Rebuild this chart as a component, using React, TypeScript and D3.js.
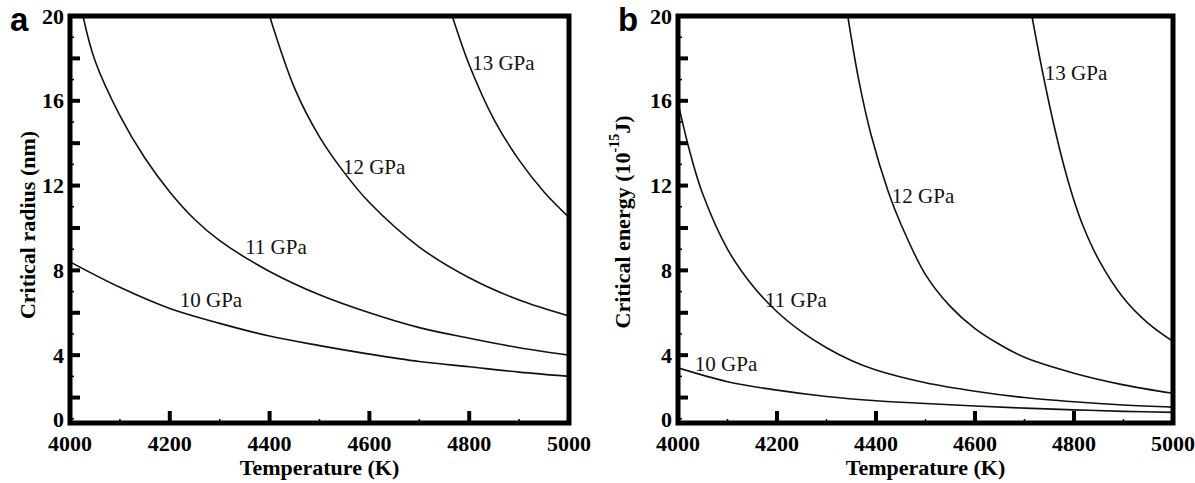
import React from 'react';
import * as d3 from 'd3';

const W = 1195;
const H = 483;

// Shared axis content
const temperatureMajor = [4000, 4200, 4400, 4600, 4800, 5000];
const temperatureMinor = [4100, 4300, 4500, 4700, 4900];
const yTickLabels = [0, 4, 8, 12, 16, 20];
const yMajorTicks = [2, 4, 6, 8, 10, 12, 14, 16, 18];
const yMinorTicks = [1, 3, 5, 7, 9, 11, 13, 15, 17, 19];
const Y_FLOOR = 0.8; // value at the bottom frame line (as drawn in the original)

// Panel a: critical radius (nm)
const radius10 = [[4000, 8.4], [4100, 7.2], [4200, 6.2], [4300, 5.5], [4400, 4.9], [4500, 4.45], [4600, 4.05], [4700, 3.7], [4800, 3.45], [4900, 3.2], [5000, 3.0]];
const radius11 = [[4026, 20], [4050, 17.9], [4100, 15.3], [4150, 13.3], [4200, 11.7], [4250, 10.4], [4300, 9.4], [4400, 7.95], [4500, 6.85], [4600, 6.0], [4700, 5.3], [4800, 4.8], [4900, 4.35], [5000, 4.0]];
const radius12 = [[4400, 20], [4450, 16.6], [4500, 14.3], [4550, 12.6], [4600, 11.2], [4700, 9.1], [4800, 7.65], [4900, 6.6], [5000, 5.85]];
const radius13 = [[4766, 20], [4800, 17.7], [4850, 15.1], [4900, 13.2], [4950, 11.7], [5000, 10.5]];

// Panel b: critical energy (1e-15 J)
const energy10 = [[4000, 3.4], [4100, 2.75], [4200, 2.35], [4300, 2.05], [4400, 1.85], [4500, 1.72], [4600, 1.6], [4700, 1.5], [4800, 1.42], [4900, 1.35], [5000, 1.3]];
const energy11 = [[4000, 15.9], [4025, 13.5], [4050, 11.6], [4100, 9.0], [4150, 7.3], [4200, 6.05], [4250, 5.1], [4300, 4.35], [4350, 3.75], [4400, 3.3], [4500, 2.7], [4600, 2.3], [4700, 2.0], [4800, 1.8], [4900, 1.65], [5000, 1.55]];
const energy12 = [[4343, 20], [4365, 17.0], [4390, 14.4], [4425, 11.7], [4450, 10.2], [4500, 7.8], [4550, 6.3], [4600, 5.25], [4650, 4.5], [4700, 3.9], [4800, 3.15], [4900, 2.6], [5000, 2.2]];
const energy13 = [[4715, 20], [4737, 17.3], [4760, 14.8], [4780, 12.9], [4800, 11.3], [4820, 10.0], [4850, 8.5], [4900, 6.7], [4950, 5.5], [5000, 4.65]];

const seriesNames = ['10 GPa', '11 GPa', '12 GPa', '13 GPa'];
const labelAnchorsA = [[4220, 6.6], [4351, 9.1], [4547, 12.9], [4806, 17.8]];
const labelAnchorsB = [[4034, 3.6], [4176, 6.6], [4432, 11.5], [4741, 17.3]];

const SERIF = '"Liberation Serif", "Times New Roman", serif';
const SANS = '"Liberation Sans", Arial, sans-serif';

type Pt = number[];

function Panel(props: {
  left: number; right: number; top: number; bottom: number;
  series: Pt[][]; labels: Pt[]; letter: string; titleX: number; titleY: number;
  yTitle: React.ReactNode; clipId: string;
}) {
  const { left, right, top, bottom, series, labels, letter, titleX, titleY, yTitle, clipId } = props;
  const x = d3.scaleLinear().domain([4000, 5000]).range([left, right]);
  const y = d3.scaleLinear().domain([Y_FLOOR, 20]).range([bottom, top]);
  const line = d3.line<Pt>().x(d => x(d[0])).y(d => y(d[1])).curve(d3.curveCatmullRom.alpha(0.5));
  return (
    <g>
      <defs>
        <clipPath id={clipId}>
          <rect x={left} y={top} width={right - left} height={bottom - top} />
        </clipPath>
      </defs>
      <g clipPath={`url(#${clipId})`}>
        {series.map((s, i) => (
          <path key={i} d={line(s) || ''} fill="none" stroke="#111" strokeWidth={1.6} />
        ))}
      </g>
      {labels.map((p, i) => (
        <text key={i} x={x(p[0])} y={y(p[1])} fontFamily={SERIF} fontSize={21} dominantBaseline="central" fill="#111">
          {seriesNames[i]}
        </text>
      ))}
      {/* ticks */}
      {temperatureMajor.slice(1, -1).map(t => (
        <line key={'xm' + t} x1={x(t)} x2={x(t)} y1={bottom} y2={bottom - 12} stroke="#000" strokeWidth={4} />
      ))}
      {temperatureMinor.map(t => (
        <line key={'xn' + t} x1={x(t)} x2={x(t)} y1={bottom} y2={bottom - 4} stroke="#000" strokeWidth={1.5} />
      ))}
      {yMajorTicks.map(v => (
        <line key={'ym' + v} x1={left} x2={left + 10} y1={y(v)} y2={y(v)} stroke="#000" strokeWidth={4} />
      ))}
      {yMinorTicks.map(v => (
        <line key={'yn' + v} x1={left} x2={left + 4} y1={y(v)} y2={y(v)} stroke="#000" strokeWidth={1.5} />
      ))}
      {/* frame */}
      <rect x={left} y={top} width={right - left} height={bottom - top} fill="none" stroke="#000" strokeWidth={5} />
      {/* tick labels */}
      {temperatureMajor.map(t => (
        <text key={'xl' + t} x={x(t)} y={451} textAnchor="middle" fontFamily={SERIF} fontWeight="bold" fontSize={22}>{t}</text>
      ))}
      {yTickLabels.map(v => (
        <text key={'yl' + v} x={left - 6} y={Math.min(y(v), bottom - 4)} textAnchor="end" dominantBaseline="central"
          fontFamily={SERIF} fontWeight="bold" fontSize={22}>{v}</text>
      ))}
      <text x={(left + right) / 2} y={475} textAnchor="middle" fontFamily={SERIF} fontWeight="bold" fontSize={22}>Temperature (K)</text>
      <text transform={`translate(${titleX},${titleY}) rotate(-90)`} textAnchor="middle" dominantBaseline="central"
        fontFamily={SERIF} fontWeight="bold" fontSize={22}>{yTitle}</text>
      <text x={left - 60} y={31} fontFamily={SANS} fontWeight="bold" fontSize={33}>{letter}</text>
    </g>
  );
}

export default function App() {
  return (
    <svg width={W} height={H} style={{ position: 'absolute', left: 0, top: 0, background: '#fff' }}>
      <rect width={W} height={H} fill="#fff" />
      <Panel left={70} right={569} top={16} bottom={423}
        series={[radius10, radius11, radius12, radius13]} labels={labelAnchorsA}
        letter="a" titleX={27} titleY={225} clipId="clipA"
        yTitle="Critical radius (nm)" />
      <Panel left={678} right={1173} top={16} bottom={423}
        series={[energy10, energy11, energy12, energy13]} labels={labelAnchorsB}
        letter="b" titleX={622} titleY={222} clipId="clipB"
        yTitle={<>Critical energy (10<tspan dy={-8} fontSize={14}>-15</tspan><tspan dy={8}>J)</tspan></>} />
    </svg>
  );
}
